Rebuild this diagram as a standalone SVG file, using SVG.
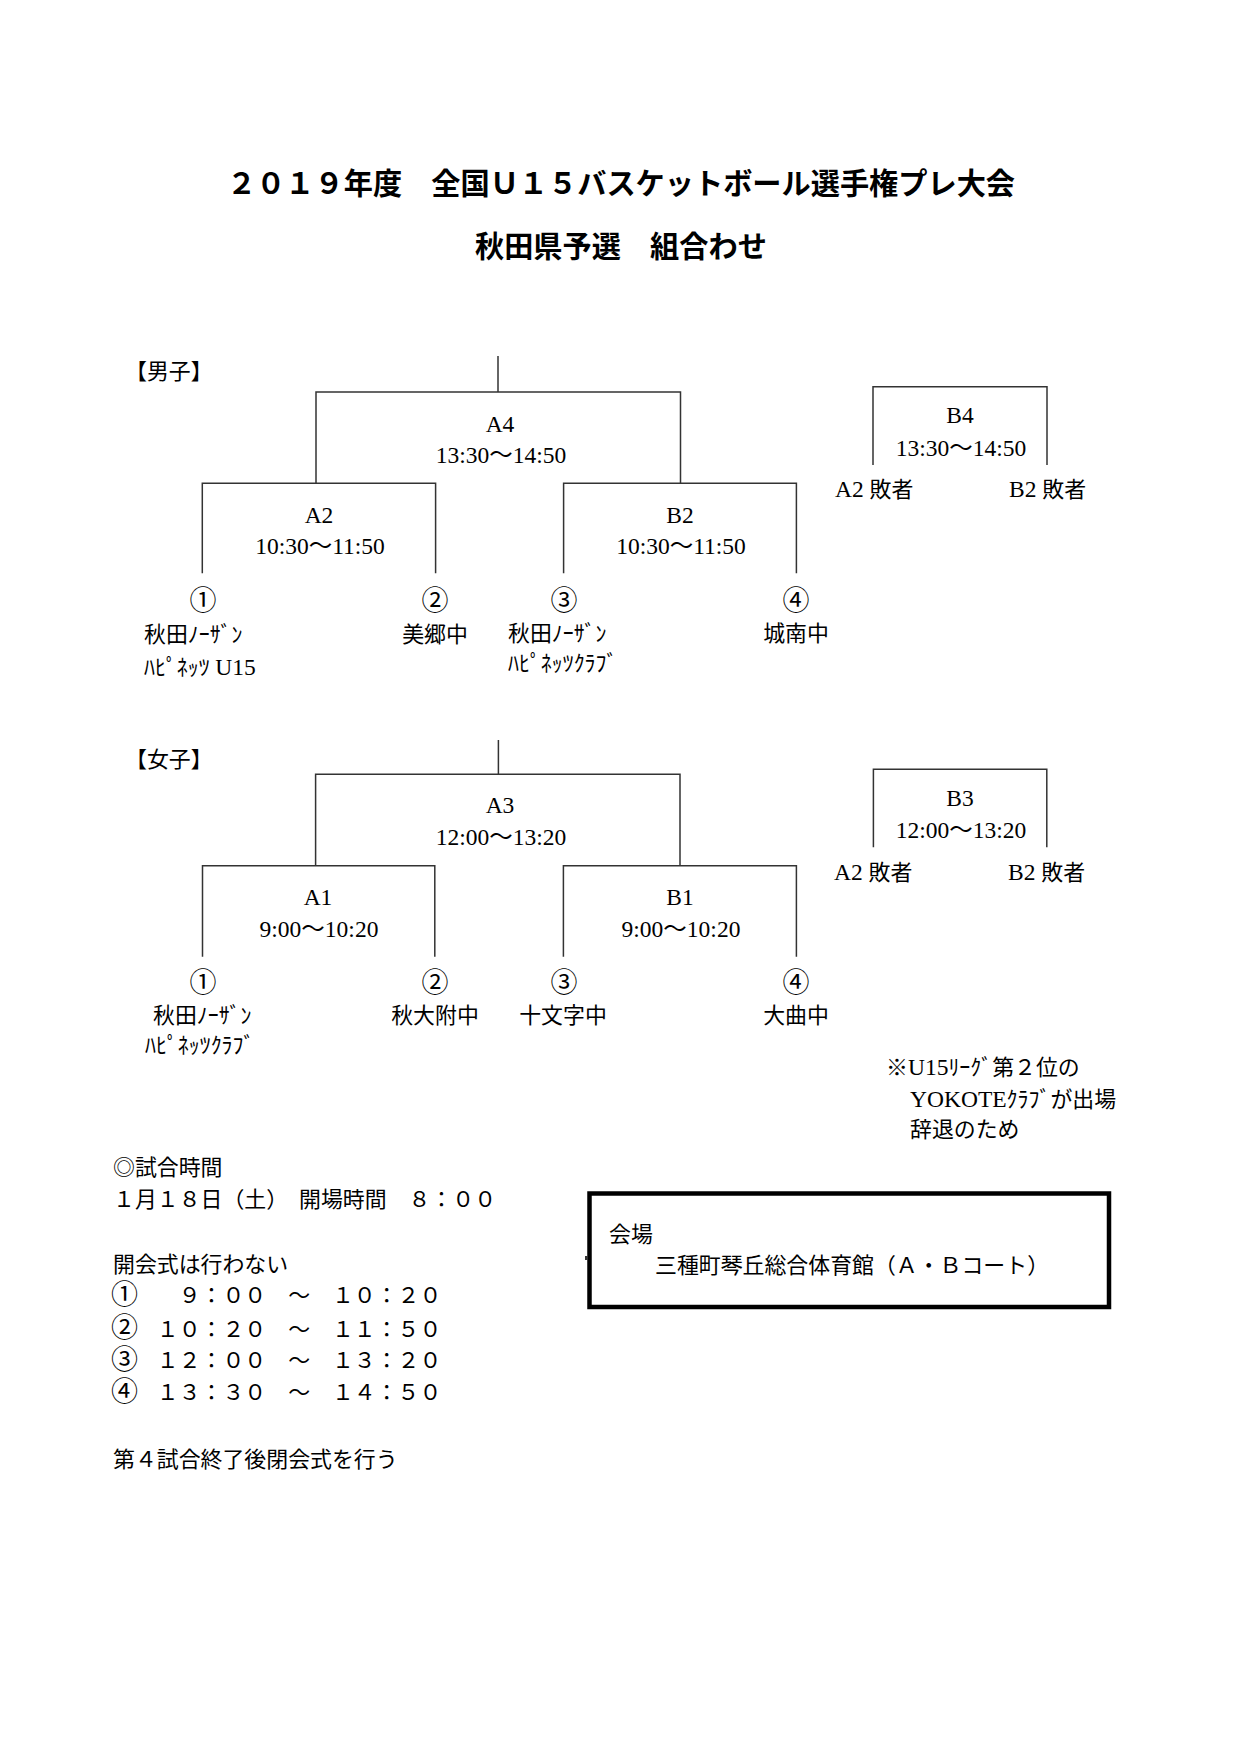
<svg xmlns="http://www.w3.org/2000/svg" width="1241" height="1754" viewBox="0 0 1241 1754">
<style>
.t{font-family:"Liberation Serif","Noto Sans CJK JP",serif;font-size:21.9px;fill:#000}
.L{font-size:23.5px}
.n{font-size:27px}
.c{text-anchor:middle}
.ttl{font-family:"Noto Sans CJK JP",sans-serif;font-weight:bold;font-size:29.2px;fill:#000}
.ln{stroke:#333;stroke-width:1.5;fill:none}
.box{stroke:#000;stroke-width:4.5;fill:none}
</style>
<rect width="1241" height="1754" fill="#fff"/>

<g id="title">
<text class="ttl" x="227" y="194">２０１９年度　全国Ｕ１５バスケットボール選手権プレ大会</text>
<text class="ttl" x="475" y="257">秋田県予選　組合わせ</text>
</g>

<g id="connectors">
<path class="ln" d="M498 356V392"/>
<path class="ln" d="M316 483.3V392H680.5V483.3"/>
<path class="ln" d="M202.3 573.3V483.3H435.6V573.3"/>
<path class="ln" d="M563.6 573.3V483.3H796.4V573.3"/>
<path class="ln" d="M873 465V386.7H1047V465"/>
<path class="ln" d="M498.4 740V774.3"/>
<path class="ln" d="M315.6 865.7V774.3H680V865.7"/>
<path class="ln" d="M202.5 956.7V865.7H434.8V956.7"/>
<path class="ln" d="M563.4 956.7V865.7H796.4V956.7"/>
<path class="ln" d="M873.4 847.3V769.3H1046.8V847.3"/>
</g>

<g id="men">
<text class="t" x="125" y="379">【男子】</text>
<g id="m-A4"><text class="t L c" x="500" y="431.7">A4</text><text class="t L c" x="501" y="463.3">13:30〜14:50</text></g>
<g id="m-A2"><text class="t L c" x="319" y="522.7">A2</text><text class="t L c" x="320" y="554.3">10:30〜11:50</text></g>
<g id="m-B2"><text class="t L c" x="680" y="522.7">B2</text><text class="t L c" x="681" y="554.3">10:30〜11:50</text></g>
<g id="m-B4"><text class="t L c" x="960" y="423.3">B4</text><text class="t L c" x="961" y="456">13:30〜14:50</text>
<text class="t" x="835" y="496.7"><tspan class="L">A2 </tspan>敗者</text><text class="t" x="1009" y="496.7"><tspan class="L">B2 </tspan>敗者</text></g>
<g id="m-team1"><text class="t n c" x="203" y="610">①</text><text class="t" x="144" y="641.7">秋田ﾉｰｻﾞﾝ</text><text class="t" x="144" y="675">ﾊﾋﾟﾈｯﾂ <tspan class="L">U15</tspan></text></g>
<g id="m-team2"><text class="t n c" x="435" y="610">②</text><text class="t c" x="435" y="641.7">美郷中</text></g>
<g id="m-team3"><text class="t n c" x="564" y="610">③</text><text class="t" x="508" y="641">秋田ﾉｰｻﾞﾝ</text><text class="t" x="508" y="671">ﾊﾋﾟﾈｯﾂｸﾗﾌﾞ</text></g>
<g id="m-team4"><text class="t n c" x="796" y="610">④</text><text class="t c" x="796" y="641">城南中</text></g>
</g>

<g id="women">
<text class="t" x="125" y="766.7">【女子】</text>
<g id="w-A3"><text class="t L c" x="500" y="813.3">A3</text><text class="t L c" x="501" y="845">12:00〜13:20</text></g>
<g id="w-A1"><text class="t L c" x="318" y="905">A1</text><text class="t L c" x="319" y="937.3">9:00〜10:20</text></g>
<g id="w-B1"><text class="t L c" x="680" y="905">B1</text><text class="t L c" x="681" y="937.3">9:00〜10:20</text></g>
<g id="w-B3"><text class="t L c" x="960" y="806">B3</text><text class="t L c" x="961" y="838.3">12:00〜13:20</text>
<text class="t" x="834" y="880"><tspan class="L">A2 </tspan>敗者</text><text class="t" x="1008" y="880"><tspan class="L">B2 </tspan>敗者</text></g>
<g id="w-team1"><text class="t n c" x="203" y="992">①</text><text class="t" x="153" y="1023">秋田ﾉｰｻﾞﾝ</text><text class="t" x="145" y="1053">ﾊﾋﾟﾈｯﾂｸﾗﾌﾞ</text></g>
<g id="w-team2"><text class="t n c" x="435" y="992">②</text><text class="t c" x="435" y="1023">秋大附中</text></g>
<g id="w-team3"><text class="t n c" x="564" y="992">③</text><text class="t c" x="563" y="1023">十文字中</text></g>
<g id="w-team4"><text class="t n c" x="796" y="992">④</text><text class="t c" x="796" y="1023">大曲中</text></g>
</g>

<g id="note">
<text class="t" x="886" y="1075">※<tspan class="L">U15</tspan>ﾘｰｸﾞ第２位の</text>
<text class="t" x="910" y="1106.7"><tspan class="L">YOKOTE</tspan>ｸﾗﾌﾞが出場</text>
<text class="t" x="910" y="1137">辞退のため</text>
</g>

<g id="schedule">
<text class="t" x="113" y="1175">◎試合時間</text>
<text class="t" x="113" y="1206.7">１月１８日（土）　開場時間　８：００</text>
<text class="t" x="113" y="1271.7">開会式は行わない</text>
<text class="t" x="111" y="1304"><tspan class="n">①</tspan><tspan x="134.9" y="1303.3">　　９：００　～　１０：２０</tspan></text>
<text class="t" x="111" y="1337.4"><tspan class="n">②</tspan><tspan x="134.9" y="1336.7">　１０：２０　～　１１：５０</tspan></text>
<text class="t" x="111" y="1369"><tspan class="n">③</tspan><tspan x="134.9" y="1368.3">　１２：００　～　１３：２０</tspan></text>
<text class="t" x="111" y="1400.7"><tspan class="n">④</tspan><tspan x="134.9" y="1400">　１３：３０　～　１４：５０</tspan></text>
<text class="t" x="113" y="1466.7">第４試合終了後閉会式を行う</text>
</g>

<g id="venue">
<rect class="box" x="589.5" y="1193.5" width="519.5" height="113.5"/>
<rect x="585" y="1256" width="3" height="4" fill="#333"/>
<text class="t" x="609" y="1241.7">会場</text>
<text class="t" x="655" y="1273.3">三種町琴丘総合体育館（Ａ・Ｂコート）</text>
</g>
</svg>
